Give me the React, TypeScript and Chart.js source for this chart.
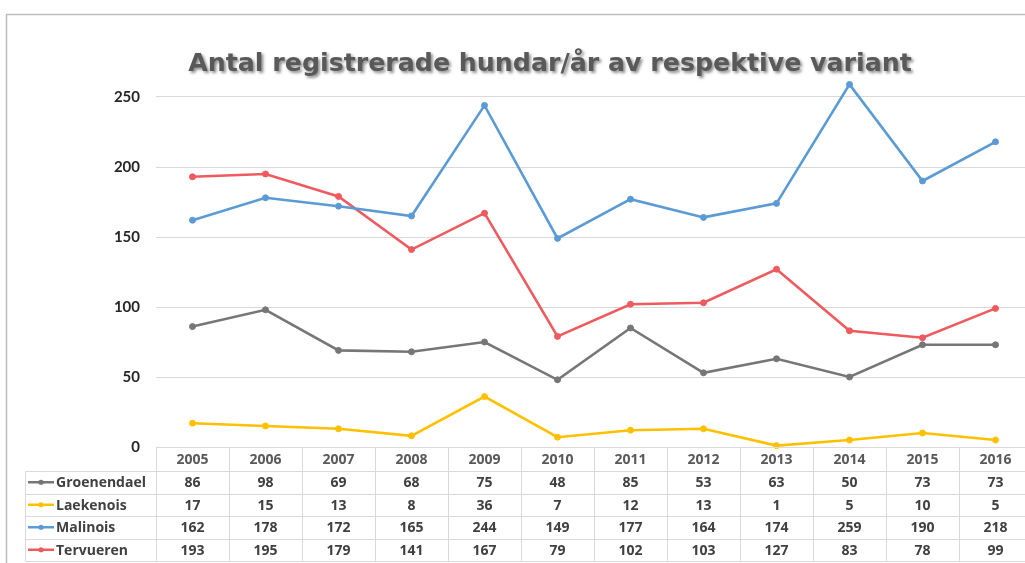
import React, { useEffect, useRef } from "react";
import { Chart, registerables } from "chart.js";

Chart.register(...registerables);

const years = ["2005", "2006", "2007", "2008", "2009", "2010", "2011", "2012", "2013", "2014", "2015", "2016"];
const groenendael = [86, 98, 69, 68, 75, 48, 85, 53, 63, 50, 73, 73];
const laekenois = [17, 15, 13, 8, 36, 7, 12, 13, 1, 5, 10, 5];
const malinois = [162, 178, 172, 165, 244, 149, 177, 164, 174, 259, 190, 218];
const tervueren = [193, 195, 179, 141, 167, 79, 102, 103, 127, 83, 78, 99];
const seriesNames = ["Groenendael", "Laekenois", "Malinois", "Tervueren"];
const seriesColors = ["#767676", "#ffc000", "#5b9bd5", "#ee5a5e"];
const yTicks = [0, 50, 100, 150, 200, 250];
const titleText = "Antal registrerade hundar/år av respektive variant";

const TABLE_FONT = "bold 14px 'Open Sans'";
const GRID = "#d9d9d9";

const tablePlugin = {
  id: "dataTable",
  afterDraw(chart: any) {
    const ctx = chart.ctx as CanvasRenderingContext2D;
    const x = chart.scales.x;
    const area = chart.chartArea;
    const seriesData = chart.data.datasets.map((d: any) => d.data as number[]);
    const n = years.length;
    const step = n > 1 ? x.getPixelForValue(1) - x.getPixelForValue(0) : 70;
    const colLeft = x.getPixelForValue(0) - step / 2;
    const colRight = x.getPixelForValue(n - 1) + step / 2;
    const top = area.bottom;
    const headerH = 24;
    const rowH = 22.5;
    const legendLeft = 25.5;
    const rowsTop = top + headerH;
    const bottom = rowsTop + rowH * seriesData.length;

    ctx.save();
    ctx.strokeStyle = GRID;
    ctx.lineWidth = 1;
    ctx.beginPath();
    ctx.moveTo(colLeft, Math.round(top) + 0.5);
    ctx.lineTo(colRight, Math.round(top) + 0.5);
    for (let r = 0; r <= seriesData.length; r++) {
      const yy = Math.round(rowsTop + r * rowH) + 0.5;
      ctx.moveTo(legendLeft, yy);
      ctx.lineTo(colRight, yy);
    }
    ctx.moveTo(legendLeft, Math.round(rowsTop) + 0.5);
    ctx.lineTo(legendLeft, Math.round(bottom) + 0.5);
    for (let c = 0; c <= n; c++) {
      const xx = Math.round(colLeft + c * step) + 0.5;
      ctx.moveTo(xx, Math.round(top) + 0.5);
      ctx.lineTo(xx, Math.round(bottom) + 0.5);
    }
    ctx.stroke();

    ctx.font = TABLE_FONT;
    ctx.textBaseline = "middle";
    ctx.textAlign = "center";
    ctx.fillStyle = "#595959";
    for (let c = 0; c < n; c++) {
      ctx.fillText(years[c], x.getPixelForValue(c), top + headerH / 2 + 1);
    }
    ctx.fillStyle = "#404040";
    for (let r = 0; r < seriesData.length; r++) {
      const cy = rowsTop + r * rowH + rowH / 2 + 1;
      for (let c = 0; c < n; c++) {
        ctx.fillText(String(seriesData[r][c]), x.getPixelForValue(c), cy);
      }
    }
    for (let r = 0; r < seriesData.length; r++) {
      const cy = rowsTop + r * rowH + rowH / 2;
      const col = seriesColors[r];
      ctx.strokeStyle = col;
      ctx.lineWidth = 2.5;
      ctx.beginPath();
      ctx.moveTo(28, cy);
      ctx.lineTo(54, cy);
      ctx.stroke();
      ctx.fillStyle = col;
      ctx.beginPath();
      ctx.arc(41, cy, 2.6, 0, Math.PI * 2);
      ctx.fill();
      ctx.fillStyle = "#404040";
      ctx.textAlign = "left";
      ctx.fillText(seriesNames[r], 56, cy + 1);
    }

    ctx.strokeStyle = "#bdbdbd";
    ctx.lineWidth = 1.5;
    ctx.beginPath();
    ctx.moveTo(6.5, chart.height);
    ctx.lineTo(6.5, 14.5);
    ctx.lineTo(chart.width, 14.5);
    ctx.stroke();

    ctx.font = "bold 30px 'DejaVu Sans'";
    const w = ctx.measureText(titleText).width;
    const size = (30 * 724) / w;
    ctx.font = `bold ${size.toFixed(2)}px 'DejaVu Sans'`;
    ctx.textAlign = "center";
    ctx.textBaseline = "alphabetic";
    ctx.shadowColor = "rgba(0,0,0,0.45)";
    ctx.shadowOffsetX = 2;
    ctx.shadowOffsetY = 2;
    ctx.shadowBlur = 3;
    ctx.fillStyle = "#595959";
    ctx.fillText(titleText, 550, 71);
    ctx.restore();
  },
};

export default function App() {
  const ref = useRef<HTMLCanvasElement | null>(null);
  useEffect(() => {
    if (!ref.current) return;
    const allSeries = [groenendael, laekenois, malinois, tervueren];
    const chart = new Chart(ref.current, {
      type: "line",
      data: {
        labels: years,
        datasets: allSeries.map((d, i) => ({
          label: seriesNames[i],
          data: d,
          borderColor: seriesColors[i],
          backgroundColor: seriesColors[i],
          pointBackgroundColor: seriesColors[i],
          pointBorderColor: seriesColors[i],
          borderWidth: 2.6,
          pointRadius: 3,
          pointBorderWidth: 1,
          tension: 0,
          clip: false as any,
        })),
      },
      options: {
        responsive: false,
        animation: false,
        devicePixelRatio: 1,
        layout: { padding: { top: 27, bottom: 116, left: 0, right: 8 } },
        plugins: {
          legend: { display: false },
          title: { display: false },
          tooltip: { enabled: false },
        },
        scales: {
          x: {
            type: "category",
            display: false,
            offset: true,
          },
          y: {
            min: 0,
            max: 300,
            afterBuildTicks: (scale: any) => {
              scale.ticks = yTicks.map((v) => ({ value: v }));
            },
            afterFit: (scale: any) => {
              scale.width = 156;
            },
            ticks: {
              padding: 16,
              color: "#262626",
              font: { family: "Lato", weight: "bold", size: 15 },
            },
            grid: { color: GRID, drawTicks: false, lineWidth: 1 },
            border: { display: false },
          },
        },
      },
      plugins: [tablePlugin],
    });
    return () => chart.destroy();
  }, []);

  return (
    <div
      style={{
        position: "fixed",
        left: 0,
        top: 0,
        width: 1025,
        height: 563,
        overflow: "hidden",
        background: "#fff",
      }}
    >
      <canvas ref={ref} width={1040} height={563} style={{ display: "block", width: 1040, height: 563 }} />
    </div>
  );
}
